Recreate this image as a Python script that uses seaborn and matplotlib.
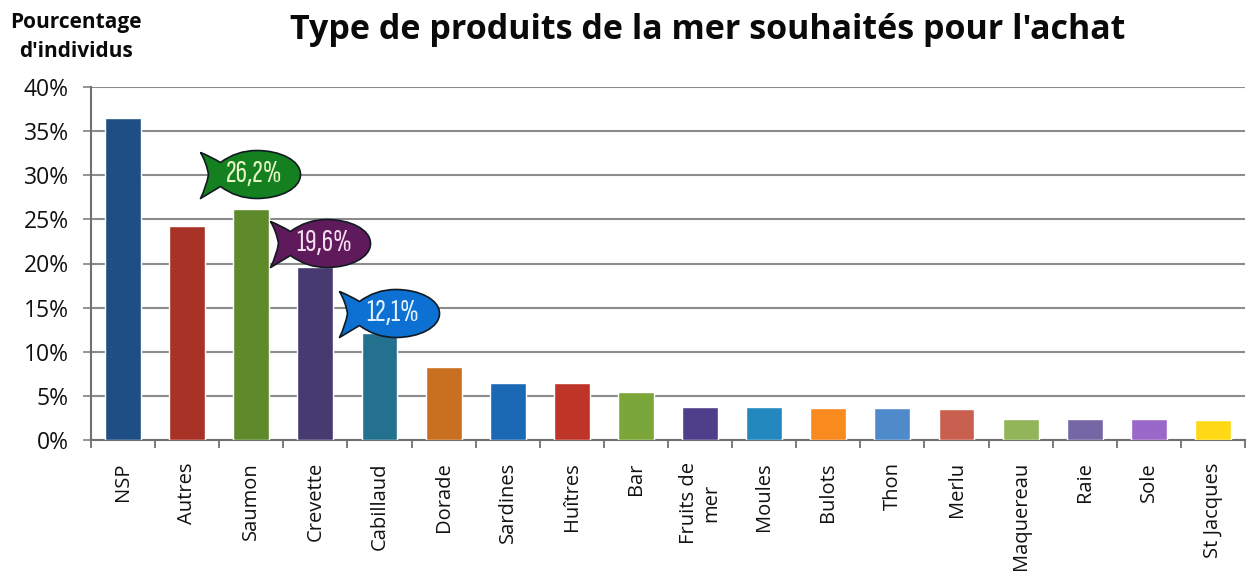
import numpy as np
import pandas as pd
import seaborn as sns
import matplotlib.pyplot as plt
from matplotlib.path import Path
from matplotlib.transforms import offset_copy

categories = ['NSP', 'Autres', 'Saumon', 'Crevette', 'Cabillaud', 'Dorade', 'Sardines', 'Huîtres', 'Bar',
              'Fruits de\nmer', 'Moules', 'Bulots', 'Thon', 'Merlu', 'Maquereau', 'Raie', 'Sole', 'St Jacques']
values = [36.5, 24.2, 26.2, 19.6, 12.1, 8.3, 6.5, 6.5, 5.4, 3.7, 3.7, 3.6, 3.6, 3.5, 2.4, 2.4, 2.4, 2.3]
colors = ['#1F4E85', '#A93226', '#5F8A2B', '#463A70', '#24708F', '#C8701F', '#1B69B5', '#BE3427', '#7BA63A',
          '#4F3F8A', '#2388BE', '#F98A1E', '#4F8BCB', '#C9604F', '#93B55A', '#7566A6', '#9A68C8', '#FFD915']
y_ticks = [0, 5, 10, 15, 20, 25, 30, 35, 40]

# fish labels: bar name, text, fill, text colour, offset from bar top in pixels
fish_bars = ['Saumon', 'Crevette', 'Cabillaud']
fish_text = ['26,2%', '19,6%', '12,1%']
fish_fill = ['#14801F', '#5F1A5C', '#0C71D2']
fish_ink = ['#E6F5C8', '#F5DDF0', '#E2F2FF']
fish_dx = [-1, 5, 9]
fish_dy = [35, 24, 20]

W, H = 1251, 576
sns.set_theme(style='white')
plt.rcParams['font.family'] = ['Open Sans', 'DejaVu Sans']

df = pd.DataFrame({'cat': categories, 'val': values})

fig = plt.figure(figsize=(W / 100, H / 100), dpi=100, facecolor='white')
ax = fig.add_axes([91 / W, 1 - 440 / H, (1245 - 91) / W, (440 - 87) / H])

sns.barplot(data=df, x='cat', y='val', hue='cat', palette=colors, legend=False, width=0.56,
            saturation=1, ax=ax, zorder=3)

ax.set_xlim(-0.5, len(categories) - 0.5)
ax.set_ylim(0, 40)
ax.set_xlabel('')
ax.set_ylabel('')
ax.set_yticks(y_ticks)
ax.set_yticklabels([f'{t}%' for t in y_ticks], fontsize=16.5, color='#111111', fontweight='medium')
ax.set_xticks(np.arange(len(categories)))
ax.set_xticklabels(categories, rotation=90, fontsize=14.5, color='#111111', multialignment='center',
                   linespacing=1.1, fontweight='medium')
ax.set_xticks(np.arange(len(categories) + 1) - 0.5, minor=True)
ax.tick_params(axis='x', which='major', length=0, pad=16)
ax.tick_params(axis='x', which='minor', length=6, width=1.3, color='#707070', bottom=True)
ax.tick_params(axis='y', length=6, width=1.3, color='#8c8c8c', left=True, pad=10)

ax.yaxis.grid(True, color='#8c8c8c', lw=1.5, zorder=0)
ax.xaxis.grid(False)
ax.set_axisbelow(True)
for s in ['top', 'right']:
    ax.spines[s].set_visible(False)
for s in ['left', 'bottom']:
    ax.spines[s].set_color('#707070')
    ax.spines[s].set_linewidth(1.5)

fig.text(708 / W, 1 - 30 / H, "Type de produits de la mer souhaités pour l'achat", ha='center', va='center',
         fontsize=24.5, fontweight='bold', color='#0a0a0a')
fig.text(76 / W, 1 - 37 / H, "Pourcentage\nd'individus", ha='center', va='center', fontsize=15,
         fontweight='bold', color='#0a0a0a', linespacing=1.5)

# fish outline, used as a marker
fish = Path([(-50, 22), (-44, 12), (-42, 0), (-44, -12), (-50, -24), (-40, -18), (-30, -12), (-14, -24), (6, -24),
             (30, -24), (50, -14), (50, 0), (50, 14), (30, 24), (6, 24), (-14, 24), (-30, 12), (-40, 18), (-50, 22)],
            [Path.MOVETO, Path.CURVE3, Path.CURVE3, Path.CURVE3, Path.CURVE3, Path.CURVE3, Path.CURVE3,
             Path.CURVE3, Path.CURVE3, Path.CURVE4, Path.CURVE4, Path.CURVE4, Path.CURVE4, Path.CURVE4, Path.CURVE4,
             Path.CURVE3, Path.CURVE3, Path.CURVE3, Path.CURVE3])

for name, txt, fill, ink, dx, dy in zip(fish_bars, fish_text, fish_fill, fish_ink, fish_dx, fish_dy):
    i = categories.index(name)
    tr = offset_copy(ax.transData, fig, x=dx, y=dy, units='dots')
    ax.plot([i], [values[i]], marker=fish, ms=72, mfc=fill, mec='#101a20', mew=1.2, ls='none',
            transform=tr, zorder=5, clip_on=False)
    tr2 = offset_copy(ax.transData, fig, x=dx + 4, y=dy, units='dots')
    ax.text(i, values[i], txt, transform=tr2, ha='center', va='center', color=ink, fontsize=23,
            family=['Sofia Sans Extra Condensed', 'DejaVu Sans'], zorder=6)

fig.savefig('out.png', dpi=100)
